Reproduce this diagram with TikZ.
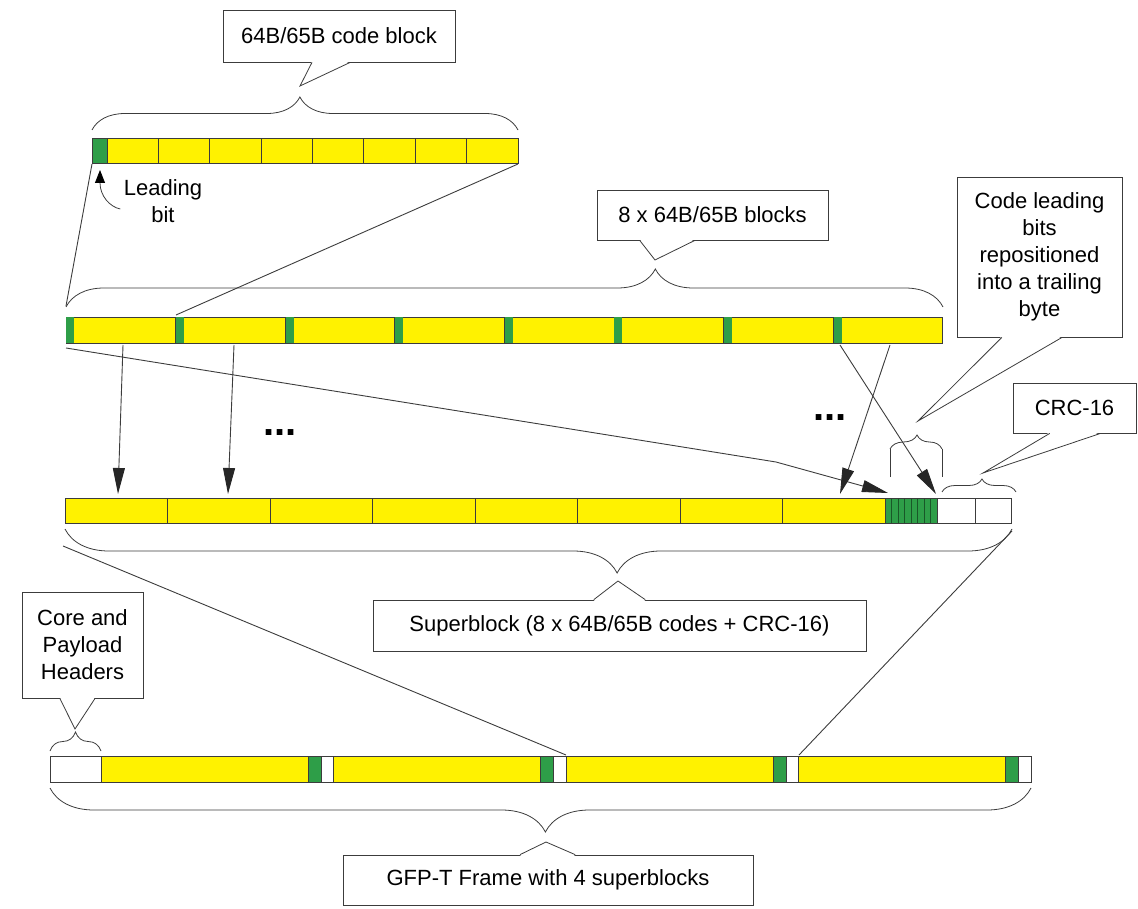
\documentclass[tikz,border=0pt]{standalone}
\usepackage{fontspec}
\setmainfont{Liberation Sans}
\usetikzlibrary{arrows.meta,calc,decorations.pathreplacing}
\definecolor{blkyellow}{RGB}{255,242,0}
\definecolor{blkgreen}{RGB}{46,158,72}
\definecolor{edge}{RGB}{60,60,60}
\newcommand{\callptr}[5]{%
  \path ($(#1.#2 west)!#3!(#1.#2 east)$) coordinate (pa)
        ($(#1.#2 west)!#4!(#1.#2 east)$) coordinate (pb);
  \fill[white] ($(pa)!1.2pt!(pa |- #1.center)$) -- (#5) -- ($(pb)!1.2pt!(pb |- #1.center)$) -- cycle;
  \draw[ptr] (pa) -- (#5) -- (pb);}

\begin{document}
\begin{tikzpicture}[x=1pt,y=-1pt,
    cell/.style={draw=edge,line width=0.8pt,fill=blkyellow},
    bitcell/.style={draw=edge,line width=0.8pt,fill=blkgreen},
    blank/.style={draw=edge,line width=0.8pt,fill=white},
    cbox/.style={draw=edge,line width=0.8pt,fill=white,align=center,inner sep=0pt,
      font=\fontsize{22}{27}\selectfont},
    ptr/.style={draw=edge,line width=0.8pt},
    brc/.style 2 args={draw=edge,line width=0.8pt,decorate,
      decoration={brace,amplitude=#1,aspect=#2}},
    zoomline/.style={draw=edge,line width=0.9pt},
    arr/.style={draw=edge,line width=0.9pt,
      -{Triangle[length=26pt,width=12pt,color=black!85,fill=black!85]}}]
  \useasboundingbox (0,0) rectangle (1138,909);

  % 64B/65B code block
  \foreach \i in {0,...,7}
    \draw[cell] ({107+51.375*\i},138) rectangle ++(51.375,25);
  \draw[bitcell] (92,138) rectangle (107,163);
  \draw[brc={33pt}{0.488}] (92,130) -- (518,130);
  \node[cbox,minimum width=232pt,minimum height=52pt] (cba) at (339,36) {64B/65B code block};
  \callptr{cba}{south}{0.384}{0.548}{300,86}
  \node[font=\fontsize{22}{27}\selectfont,align=center] (lb) at (163,201) {Leading\\bit};
  \draw[-{Triangle[length=13pt,width=10pt,color=black,fill=black]},draw=edge,line width=0.8pt]
    (lb.west |- 0,209) .. controls (110,207) and (100,196) .. (100,170);

  % 8 x 64B/65B blocks
  \foreach \i in {0,...,7} {
    \draw[cell] ({66+109.6*\i},317) rectangle ++(109.6,26);
    \fill[blkgreen] ({66.4+109.6*\i},317.4) rectangle ++(8,25.2);
  }
  \draw[brc={38pt}{0.672}] (66,307) -- (943,307);
  \node[cbox,minimum width=231pt,minimum height=50pt] (cbb) at (712.5,215) {8 x 64B/65B blocks};
  \callptr{cbb}{south}{0.186}{0.424}{655,260}
  \coordinate (r1bl) at (92,164);
  \coordinate (r1br) at (518,164);
  \coordinate (r2l) at (66,306);
  \coordinate (r2b) at (176,315);
  \draw[zoomline] (r1bl) -- (r2l);
  \draw[zoomline] (r1br) -- (r2b);

  % superblock
  \foreach \i in {0,...,7}
    \draw[cell] ({65+102.5*\i},498) rectangle ++(102.5,25);
  \draw[bitcell] (885,498) rectangle (937,523);
  \foreach \k in {1,...,7}
    \draw[blkgreen!55!black,line width=0.5pt] ({885+6.5*\k},498.5) -- ++(0,24);
  \draw[blank] (937,498) rectangle (975,523);
  \draw[blank] (975,498) rectangle (1011,523);
  \draw[brc={44pt}{0.417}] (1012,529) -- (65,529);
  \draw[ptr] (890,477) -- (890,449);
  \draw[brc={14pt}{0.52}] (890,449) -- (942,449);
  \draw[ptr] (942,449) -- (942,477);
  \draw[brc={13pt}{0.54}] (942,492) -- (1016,492);

  \coordinate (s1) at (123,345); \coordinate (t1) at (118,494);
  \coordinate (s2) at (234,345); \coordinate (t2) at (228,494);
  \coordinate (s3) at (66,348);  \coordinate (k3) at (776,462); \coordinate (t3) at (888,493);
  \coordinate (s4) at (840,345); \coordinate (t4) at (936,494);
  \coordinate (s5) at (890,345); \coordinate (t5) at (840,494);
  \draw[arr] (s1) -- (t1);
  \draw[arr] (s2) -- (t2);
  \draw[arr] (s3) -- (k3) -- (t3);
  \draw[arr] (s4) -- (t4);
  \draw[arr] (s5) -- (t5);
  \node[font=\fontsize{40}{40}\selectfont\bfseries] (d1) at (280,433) {...};
  \node[font=\fontsize{40}{40}\selectfont\bfseries] (d2) at (830,418) {...};

  \node[cbox,minimum width=165pt,minimum height=160pt] (cbc) at (1039.5,257)
    {Code leading\\bits\\repositioned\\into a trailing\\byte};
  \callptr{cbc}{south}{0.273}{0.636}{918,421}
  \node[cbox,minimum width=123pt,minimum height=50pt] (cbd) at (1074.5,408) {CRC-16};
  \callptr{cbd}{south}{0.30}{0.71}{983,473}
  \node[cbox,minimum width=493pt,minimum height=51pt] (cbe) at (619.5,625.5)
    {Superblock (8 x 64B/65B codes + CRC-16)};
  \callptr{cbe}{north}{0.448}{0.552}{618,581}

  % GFP-T frame
  \draw[blank] (50,756) rectangle (101,782);
  \foreach \i in {0,...,3} {
    \draw[cell] ({101+232.5*\i},756) rectangle ++(207,26);
    \draw[bitcell] ({308+232.5*\i},756) rectangle ++(13,26);
    \draw[blank] ({321+232.5*\i},756) rectangle ++(12.5,26);
  }
  \draw[brc={19pt}{0.5}] (50,751) -- (101,751);
  \draw[brc={44pt}{0.495}] (1031,788) -- (50,788);
  \coordinate (r3l) at (63,546);
  \coordinate (r3r) at (1012,531);
  \coordinate (r4a) at (566,755);
  \coordinate (r4b) at (799,755);
  \draw[zoomline] (r3l) -- (r4a);
  \draw[zoomline] (r3r) -- (r4b);
  \node[cbox,minimum width=121pt,minimum height=106pt] (cbf) at (82.5,645)
    {Core and\\Payload\\Headers};
  \callptr{cbf}{south}{0.314}{0.603}{75,729}
  \node[cbox,minimum width=410pt,minimum height=50pt] (cbg) at (548,880)
    {GFP-T Frame with 4 superblocks};
  \callptr{cbg}{north}{0.432}{0.566}{546,842}
\end{tikzpicture}
\end{document}
